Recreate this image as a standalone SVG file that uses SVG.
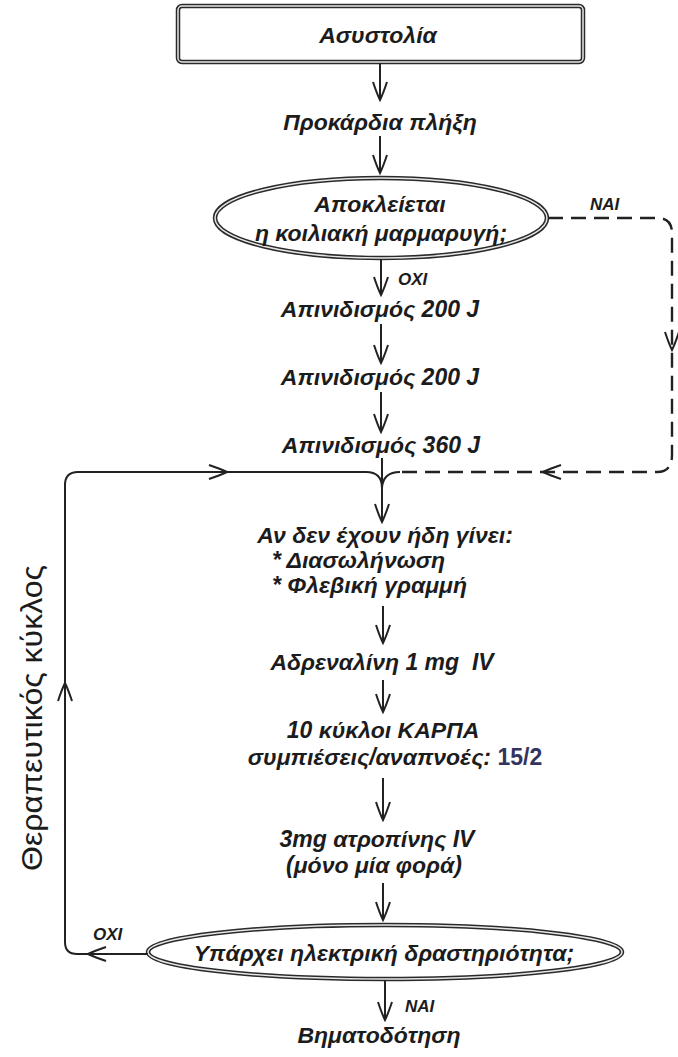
<svg xmlns="http://www.w3.org/2000/svg" xmlns:xlink="http://www.w3.org/1999/xlink" width="678" height="1057" viewBox="0 0 678 1057">
<style>
.t{font-family:"Liberation Sans",Arial,sans-serif;font-style:italic;font-weight:bold;font-size:23px;fill:#1c1c1c;text-anchor:middle}
.st{text-anchor:start}
.s{font-family:"Liberation Sans",Arial,sans-serif;font-style:italic;font-weight:bold;font-size:17px;fill:#1c1c1c}
.ln{fill:none;stroke:#222;stroke-width:2}
.ds{fill:none;stroke:#222;stroke-width:2.4;stroke-dasharray:15 8}
.ah{fill:none;stroke:#222;stroke-width:2;stroke-linejoin:miter}
.o{fill:none;stroke:#2a2a2a;stroke-width:4.5}
.i{fill:none;stroke:#e6e6e6;stroke-width:1.5}
</style>
<defs>
<marker id="m" markerUnits="userSpaceOnUse" orient="auto" markerWidth="20" markerHeight="20" refX="0" refY="0" overflow="visible">
<path d="M-18,-7 Q-6,-3 0,0 Q-6,3 -18,7" class="ah"/>
</marker>
<path id="a" d="M-7,-18 Q-3,-6 0,0 Q3,-6 7,-18" class="ah"/>
</defs>
<rect width="678" height="1057" fill="#ffffff"/>

<g id="asystolia">
<rect x="178" y="6" width="405" height="56" rx="4" class="o" stroke-width="6"/>
<rect x="178" y="6" width="405" height="56" rx="4" class="i" stroke-width="2"/>
<text x="378" y="43" class="t" font-size="26">Ασυστολία</text>
</g>
<g id="prokardia">
<text x="380" y="130" class="t">Προκάρδια πλήξη</text>
</g>
<g id="dec1">
<ellipse cx="381" cy="218" rx="166" ry="40" class="o"/>
<ellipse cx="381" cy="218" rx="166" ry="40" class="i"/>
<text x="380" y="212" class="t">Αποκλείεται</text>
<text x="381" y="241" class="t">η κοιλιακή μαρμαρυγή;</text>
</g>
<g id="apin1"><text x="380" y="317" class="t">Απινιδισμός 200 J</text></g>
<g id="apin2"><text x="380" y="385" class="t">Απινιδισμός 200 J</text></g>
<g id="apin3"><text x="381" y="453" class="t">Απινιδισμός 360 J</text></g>
<g id="checks">
<text x="385" y="543" class="t">Αν δεν έχουν ήδη γίνει:</text>
<text x="272" y="568" class="t st">* Διασωλήνωση</text>
<text x="272" y="593" class="t st">* Φλεβική γραμμή</text>
</g>
<g id="adrenaline"><text x="382" y="670" class="t">Αδρεναλίνη 1 mg&#160; IV</text></g>
<g id="cpr">
<text x="383" y="738" class="t">10 κύκλοι ΚΑΡΠΑ</text>
<text x="395" y="765" class="t">συμπιέσεις/αναπνοές: <tspan fill="#34345e" font-style="normal">15/2</tspan></text>
</g>
<g id="atropine">
<text x="377" y="847" class="t">3mg ατροπίνης IV</text>
<text x="374" y="873" class="t">(μόνο μία φορά)</text>
</g>
<g id="dec2">
<ellipse cx="385" cy="952" rx="237" ry="27" class="o"/>
<ellipse cx="385" cy="952" rx="237" ry="27" class="i"/>
<text x="384" y="961" class="t">Υπάρχει ηλεκτρική δραστηριότητα;</text>
</g>
<g id="pacing"><text x="379" y="1043" class="t">Βηματοδότηση</text></g>
<g id="cycle-label">
<text transform="translate(42,718) rotate(-90)" font-family="'Liberation Sans',Arial,sans-serif" font-size="30" fill="#1c1c1c" text-anchor="middle" textLength="306" lengthAdjust="spacingAndGlyphs">Θεραπευτικός κύκλος</text>
</g>

<g id="connectors">
<line x1="380" y1="63" x2="380" y2="100" class="ln" marker-end="url(#m)"/>
<line x1="380" y1="136" x2="380" y2="173" class="ln" marker-end="url(#m)"/>
<line x1="381" y1="259" x2="381" y2="295" class="ln" marker-end="url(#m)"/>
<line x1="381" y1="324" x2="381" y2="363" class="ln" marker-end="url(#m)"/>
<line x1="381" y1="392" x2="381" y2="432" class="ln" marker-end="url(#m)"/>
<line x1="382" y1="458" x2="382" y2="522" class="ln" marker-end="url(#m)"/>
<line x1="383" y1="606" x2="383" y2="643" class="ln" marker-end="url(#m)"/>
<line x1="383" y1="680" x2="383" y2="712" class="ln" marker-end="url(#m)"/>
<line x1="383" y1="778" x2="383" y2="820" class="ln" marker-end="url(#m)"/>
<line x1="383" y1="883" x2="383" y2="920" class="ln" marker-end="url(#m)"/>
<line x1="385" y1="980" x2="385" y2="1020" class="ln" marker-end="url(#m)"/>
<path d="M148,954 L77,954 Q65,954 65,942 L65,485 Q65,472 78,472 L366,472 Q382,472 382,488" class="ln"/>
<use xlink:href="#a" transform="translate(88,954) rotate(90)"/>
<use xlink:href="#a" transform="translate(65,683) rotate(180)"/>
<use xlink:href="#a" transform="translate(227,472) rotate(-90)"/>
<path d="M548,218 L657,218 Q672,218 672,233 L672,455 Q672,472 657,472 L400,472" class="ds"/>
<path d="M400,472 Q383,472 382,488" class="ln"/>
<use xlink:href="#a" transform="translate(672,350)"/>
<use xlink:href="#a" transform="translate(543,472) rotate(90)"/>
<text x="398" y="285" class="s">ΟΧΙ</text>
<text x="590" y="210" class="s">ΝΑΙ</text>
<text x="93" y="940" class="s">ΟΧΙ</text>
<text x="405" y="1012" class="s">ΝΑΙ</text>
</g>
</svg>
